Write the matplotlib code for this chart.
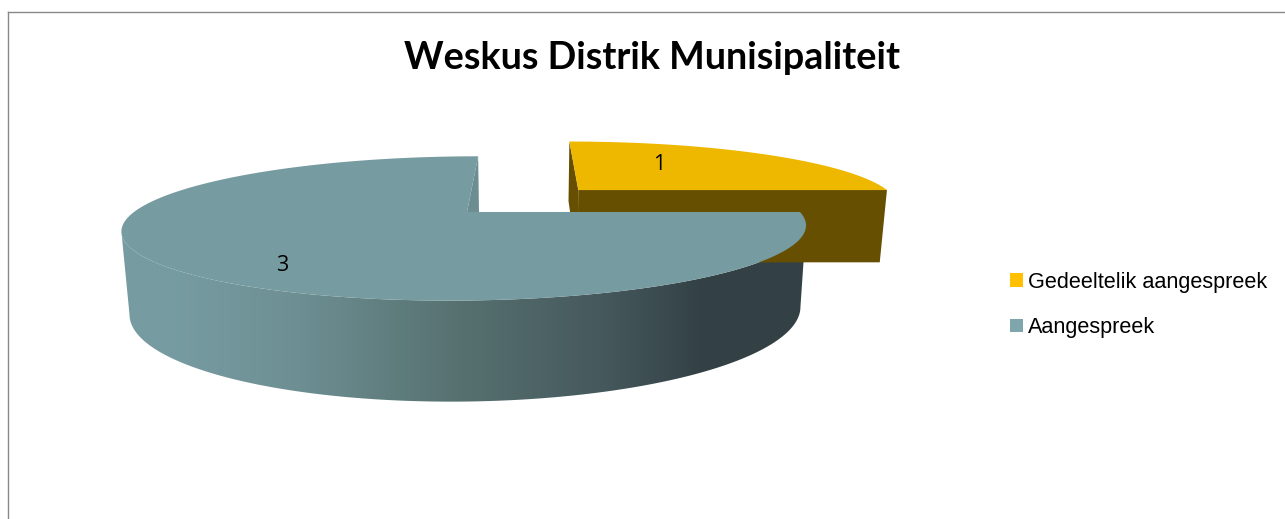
import matplotlib.pyplot as plt
import numpy as np
from matplotlib.colors import LinearSegmentedColormap
from matplotlib.patches import Patch, Polygon

title = "Weskus Distrik Munisipaliteit"
categories = ["Gedeeltelik aangespreek", "Aangespreek"]
values = [1, 3]
explode = [0.49, 0.0]

top_colors = ["#EEB800", "#769BA1"]
side_colors = ["#664F00", "#6C8E92"]
legend_colors = ["#FFC000", "#7FA6AD"]

# camera of the 3d pie, in pixels of the picture
VX, VY = 527, -88
TOP_H, BOTTOM_H = 300, 378
RADIUS, X0, TILT = 333, -60, 0.228
BOTTOM_SCALE = 0.98

wall_cmap = LinearSegmentedColormap.from_list(
    "wall",
    [(0.0, "#769BA1"), (0.08, "#769BA1"), (0.25, "#6E9094"), (0.5, "#56706F"),
     (0.7, "#46595D"), (0.85, "#334145"), (1.0, "#334145")],
)


def project(u, v, bottom=False):
    w = 1 + TILT * v
    x = (RADIUS * u + X0) / w
    if bottom:
        return VX + BOTTOM_SCALE * x, VY + BOTTOM_H / w
    return VX + x, VY + TOP_H / w


def slice_points(start, end, shift, bottom=False):
    """Rim of a slice, angles clockwise from north in degrees."""
    t = np.radians(np.linspace(start, end, 400))
    return project(np.sin(t) + shift[0], np.cos(t) + shift[1], bottom)


fig = plt.figure(figsize=(12.85, 5.19), dpi=100)
ax = fig.add_axes([8 / 1285, 0, 1277 / 1285, 507 / 519])
ax.set_xticks([])
ax.set_yticks([])
for side in ["right", "bottom"]:
    ax.spines[side].set_visible(False)
for side in ["left", "top"]:
    ax.spines[side].set_color("#888888")
    ax.spines[side].set_linewidth(1.0)

edges = np.cumsum([0] + values) / sum(values) * 360
shifts = []
for i in range(len(values)):
    mid = np.radians((edges[i] + edges[i + 1]) / 2)
    shifts.append((explode[i] * np.sin(mid), explode[i] * np.cos(mid)))

# gold slice, at the back
sx, sy = shifts[0]
north_t = project(np.sin(np.radians(edges[0])) + sx, np.cos(np.radians(edges[0])) + sy)
north_b = project(np.sin(np.radians(edges[0])) + sx, np.cos(np.radians(edges[0])) + sy, True)
east_t = project(np.sin(np.radians(edges[1])) + sx, np.cos(np.radians(edges[1])) + sy)
east_b = project(np.sin(np.radians(edges[1])) + sx, np.cos(np.radians(edges[1])) + sy, True)
apex_t = project(sx, sy)
apex_b = project(sx, sy, True)
ax.add_patch(Polygon([north_t, apex_t, apex_b, north_b], fc=side_colors[0], ec="none"))
ax.add_patch(Polygon([apex_t, east_t, east_b, apex_b], fc=side_colors[0], ec="none"))
xs, ys = slice_points(edges[0], edges[1], shifts[0])
ax.add_patch(Polygon(np.r_[[apex_t], np.c_[xs, ys]], fc=top_colors[0], ec="none"))

# big slice, cut wall first
sx, sy = shifts[1]
apex_t = project(sx, sy)
apex_b = project(sx, sy, True)
north_t = project(sx, 1 + sy)
north_b = project(sx, 1 + sy, True)
ax.add_patch(Polygon([north_t, apex_t, apex_b, north_b], fc=side_colors[1], ec="none"))

# outer wall runs between the widest points of both rims
xt, yt = slice_points(edges[1], edges[2], shifts[1])
xb, yb = slice_points(edges[1], edges[2], shifts[1], True)
t0, t1 = np.argmax(xt), np.argmin(xt)
b0, b1 = np.argmax(xb), np.argmin(xb)
wall = Polygon(np.r_[np.c_[xt[t0:t1 + 1], yt[t0:t1 + 1]], np.c_[xb[b0:b1 + 1], yb[b0:b1 + 1]][::-1]],
               fc="none", ec="none", transform=ax.transData)
ax.add_patch(wall)
# the shading runs along x and is clipped to the wall
im = ax.imshow(np.linspace(0, 1, 256)[None, :], cmap=wall_cmap, aspect="auto",
               extent=(xt.min() - 1, xt.max() + 1, yb.max() + 1, yt.min()),
               interpolation="bilinear")
im.set_clip_path(wall)

ax.add_patch(Polygon(np.r_[[apex_t], np.c_[xt, yt]], fc=top_colors[1], ec="none"))

ax.set_xlim(8, 1285)
ax.set_ylim(519, 12)

# text
ax.text(652.5, 58, title, ha="center", va="center", fontsize=27.2,
        fontweight="bold", family="Lato", color="black")
ax.text(659, 165, str(values[0]), ha="center", va="center", fontsize=15.5, family="Open Sans")
ax.text(282, 266, str(values[1]), ha="center", va="center", fontsize=15.5, family="Open Sans")

handles = [Patch(fc=c, ec="none") for c in legend_colors]
ax.legend(handles, categories, loc="center left", bbox_to_anchor=(1010, 305),
          bbox_transform=ax.transData, frameon=False, borderpad=0, borderaxespad=0,
          handlelength=0.6, handleheight=0.6, handletextpad=0.23, labelspacing=1.13,
          prop={"family": "Liberation Sans", "size": 15.6})

fig.savefig("out.png", dpi=100)
